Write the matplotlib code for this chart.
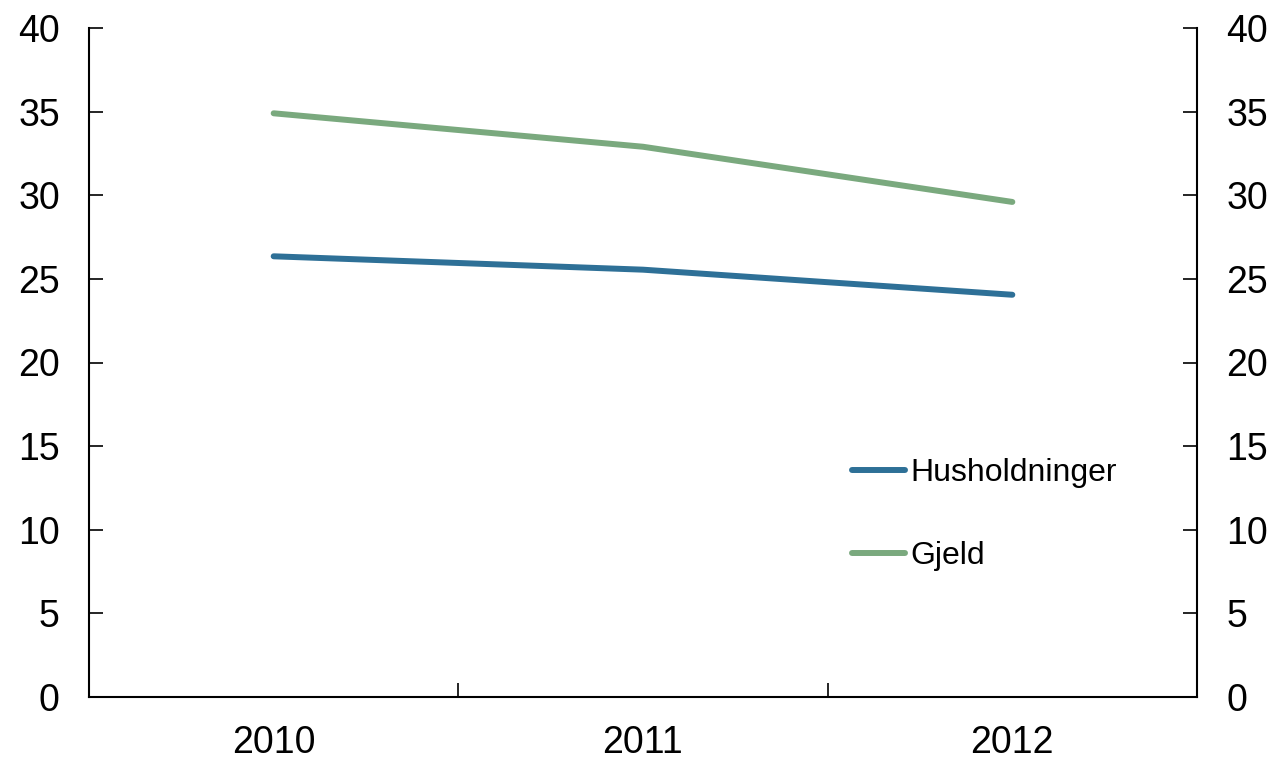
import matplotlib
matplotlib.use("Agg")
import matplotlib.pyplot as plt

years = ["2010", "2011", "2012"]
husholdninger = [26.35, 25.55, 24.05]
gjeld = [34.9, 32.9, 29.6]
yticks = [0, 5, 10, 15, 20, 25, 30, 35, 40]

plt.rcParams['font.family'] = ['Liberation Sans', 'DejaVu Sans']

fig = plt.figure(figsize=(12.79, 7.61), dpi=100)
ax = fig.add_axes([89/1279, 64/761, (1197-89)/1279, (697-28)/761])

x = list(range(len(years)))
blue = "#2e7097"
green = "#7aa97e"
ax.plot(x, husholdninger, color=blue, lw=4.3, solid_capstyle='round', label="Husholdninger")
ax.plot(x, gjeld, color=green, lw=4.3, solid_capstyle='round', label="Gjeld")

ax.set_xlim(-0.5, len(years) - 0.5)
ax.set_ylim(0, 40)
ax.set_yticks(yticks)
ax.set_yticklabels([str(v) for v in yticks])

ax.set_xticks([i + 0.5 for i in range(len(years) - 1)])
ax.set_xticklabels([])
ax.set_xticks(x, minor=True)
ax.set_xticklabels(years, minor=True)
ax.tick_params(axis='x', which='major', direction='in', length=10, width=1.2)
ax.tick_params(axis='x', which='minor', length=0, pad=20, labelsize=27)

ax.tick_params(axis='y', direction='in', length=10, width=1.2, labelsize=27, pad=21,
               left=True, right=True, labelleft=True, labelright=True)

for s in ['left', 'right', 'bottom']:
    ax.spines[s].set_linewidth(1.5)
ax.spines['top'].set_visible(False)

leg = ax.legend(loc='upper left', bbox_to_anchor=(0.6886, 0.3572), frameon=False,
                fontsize=23, handlelength=1.66, handletextpad=0.16, labelspacing=1.67,
                borderpad=0, borderaxespad=0)

fig.savefig("out.png", dpi=100)
